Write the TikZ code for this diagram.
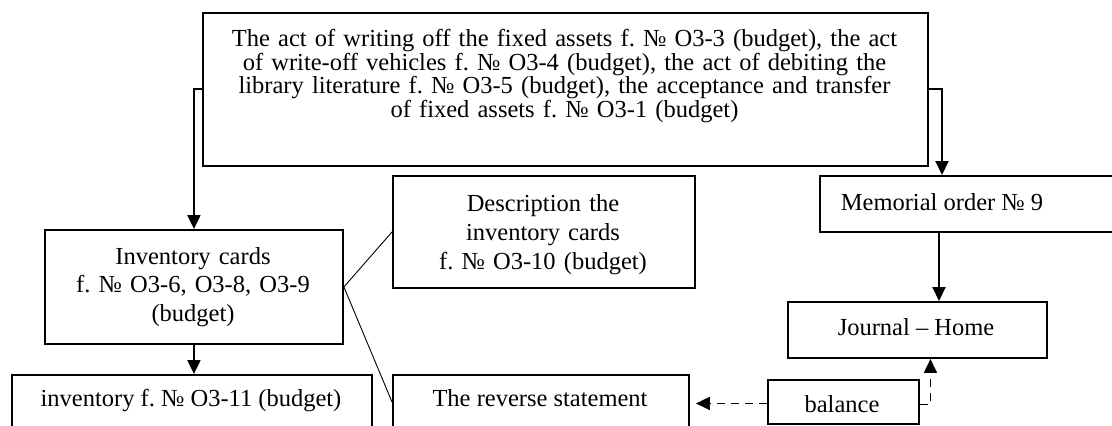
\documentclass[tikz,border=0pt]{standalone}
\usepackage{fontspec}
\setmainfont{Liberation Serif}
\usetikzlibrary{arrows.meta,positioning}
\tikzset{>={Triangle[length=14pt,width=13pt]}}
\tikzset{
  box/.style={draw,line width=1.9pt,inner sep=0pt,anchor=north west},
  txt/.style={inner sep=0pt,anchor=base,align=center,font={\fontsize{24.5}{28.8}\selectfont\frenchspacing\lineskiplimit=-20pt}},
  flow/.style={->,line width=2pt},
  link/.style={line width=0.9pt},
  dline/.style={->,line width=1.7pt,dash pattern=on 8pt off 6pt}
}
\begin{document}
\begin{tikzpicture}[x=1pt,y=-1pt]
\useasboundingbox (0,0) rectangle (1112,426);
\clip (0,0) rectangle (1112,426);
%Boxes
\node[box,minimum width=725pt,minimum height=153pt] (acts) at (202,12) {};
\node[box,minimum width=306pt,minimum height=56pt] (memo) at (819,175) {};
\node[box,minimum width=302pt,minimum height=112pt] (descr) at (392,175) {};
\node[box,minimum width=298pt,minimum height=114pt] (cards) at (44,229) {};
\node[box,minimum width=360pt,minimum height=54pt] (inv) at (11,374) {};
\node[box,minimum width=296pt,minimum height=54pt] (rev) at (392,374) {};
\node[box,minimum width=259pt,minimum height=56pt] (jour) at (787,301) {};
\node[box,minimum width=151pt,minimum height=44pt] (bal) at (767,379) {};

%Texts
\node[txt,text width=725pt,font={\fontsize{24.5}{23.5}\selectfont\frenchspacing\lineskiplimit=-20pt}] (actsT) at (564.5,46.7)
  {The act of writing off the fixed assets f. № O3-3 (budget), the act\\
   of write-off vehicles f. № O3-4 (budget), the act of debiting the\\
   library literature f. № O3-5 (budget), the acceptance and transfer\\
   of fixed assets f. № O3-1 (budget)};
\node[txt] (memoT) at (942,210) {Memorial order № 9};
\node[txt,text width=300pt] (descrT) at (543,211.5) {Description the\\inventory cards\\f. № O3-10 (budget)};
\node[txt,text width=298pt] (cardsT) at (193,264) {Inventory cards\\f. № O3-6, O3-8, O3-9\\(budget)};
\node[txt] (invT) at (191,406) {inventory f. № O3-11 (budget)};
\node[txt] (revT) at (540,406) {The reverse statement};
\node[txt] (jourT) at (916,335) {Journal – Home};
\node[txt] (balT) at (842,412) {balance};

%Arrows
\draw[flow] (acts.west) -| (cards.north);
\draw[flow] (acts.east) -| (memoT |- memo.north);
\draw[flow] (cards.south) -- (cards.south |- inv.north);
\draw[flow] ([xshift=-3pt]memoT |- memo.south) -- ([xshift=-3pt]memoT |- jour.north);

%Lines
\draw[link] (cards.east) -- (descr.west);
\draw[link] (cards.east) -- (rev.west);

%Dashed
\coordinate (balW) at ([yshift=-1.5pt]bal.west);
\coordinate (balE) at ([yshift=-2.5pt]bal.east);
\draw[dline,shorten >=6pt] (balW) -- (balW -| rev.east);
\draw[dline] (balE) -| ([xshift=13pt]jour.south);
\end{tikzpicture}
\end{document}
